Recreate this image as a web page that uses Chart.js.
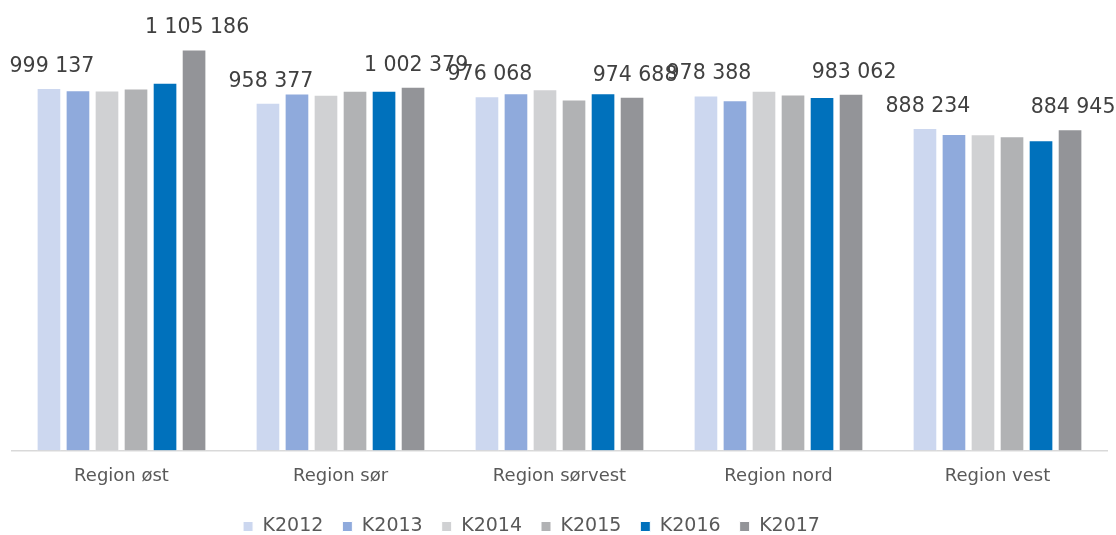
<!DOCTYPE html>
<html>
<head>
<meta charset="utf-8">
<script src="https://cdn.jsdelivr.net/npm/chart.js@4"></script>
<style>
  html, body { margin: 0; padding: 0; background: #fff; }
  #wrap { width: 1116px; height: 535px; }
</style>
</head>
<body>
<div id="wrap"><canvas id="myChart" width="1116" height="535"></canvas></div>
<script>
// regions and yearly values
var regions = ["Region øst", "Region sør", "Region sørvest", "Region nord", "Region vest"];
var years = ["K2012", "K2013", "K2014", "K2015", "K2016", "K2017"];
var k2012 = [999137, 958377, 976068, 978388, 888234];
var k2013 = [992800, 983600, 984500, 965000, 872000];
var k2014 = [992000, 980000, 995600, 991000, 871000];
var k2015 = [997500, 991000, 967000, 981000, 865600];
var k2016 = [1013000, 991000, 984500, 974300, 854500];
var k2017 = [1105186, 1002379, 974688, 983062, 884945];
var colors = ["#CCD7EF", "#8FAADC", "#D0D1D3", "#B1B2B4", "#0071BC", "#939498"];

var series = [k2012, k2013, k2014, k2015, k2016, k2017];

function fmt(n) {
  return String(n).replace(/\B(?=(\d{3})+(?!\d))/g, " ");
}

//draws the value labels above the first and last bar of every group
var valueLabels = {
  id: "valueLabels",
  afterLayout: function (chart) {
    // legend sits a bit left of centre in the original
    chart.legend.left -= 28;
    chart.legend.right -= 28;
  },
  afterDatasetsDraw: function (chart) {
    var ctx = chart.ctx;
    ctx.save();
    ctx.font = "20.5px 'DejaVu Sans'";
    ctx.fillStyle = "#404040";
    ctx.textAlign = "center";
    ctx.textBaseline = "alphabetic";
    [0, 5].forEach(function (di) {
      var meta = chart.getDatasetMeta(di);
      meta.data.forEach(function (bar, i) {
        ctx.fillText(fmt(series[di][i]), bar.x + 3, bar.y - 16);
      });
    });
    ctx.restore();
  }
};

var datasets = years.map(function (y, i) {
  return {
    label: y,
    data: series[i],
    backgroundColor: colors[i],
    borderColor: "#ffffff",
    borderWidth: 1,
    barPercentage: 0.85,
    categoryPercentage: 0.795
  };
});

new Chart("myChart", {
  type: "bar",
  data: { labels: regions, datasets: datasets },
  plugins: [valueLabels],
  options: {
    responsive: false,
    animation: false,
    layout: { padding: { top: 15, left: 12, right: 9, bottom: -11 } },
    scales: {
      y: { display: false, min: 0, max: 1200000 },
      x: {
        grid: { display: false, drawTicks: false },
        border: { display: true, color: "#D9D9D9", width: 1.5 },
        ticks: {
          color: "#595959",
          font: { family: "DejaVu Sans", size: 18 },
          padding: 15
        },
        afterFit: function (scale) {
          scale.height -= 4;
        }
      }
    },
    plugins: {
      tooltip: { enabled: false },
      legend: {
        position: "bottom",
        labels: {
          color: "#595959",
          font: { family: "DejaVu Sans", size: 19 },
          boxWidth: 10,
          boxHeight: 10,
          padding: 19
        }
      }
    }
  }
});
</script>
</body>
</html>
